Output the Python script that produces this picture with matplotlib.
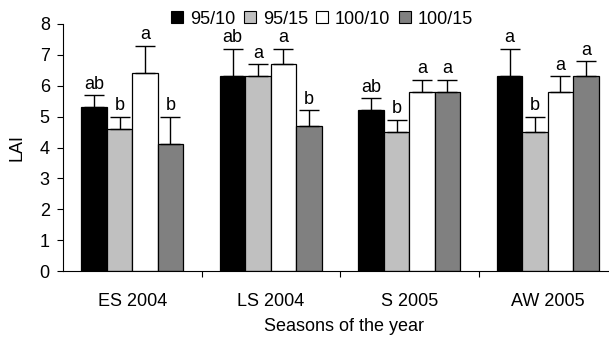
import matplotlib
matplotlib.use("Agg")
import matplotlib.pyplot as plt
import numpy as np
from matplotlib.patches import Patch

plt.rcParams['font.family'] = ['Liberation Sans', 'DejaVu Sans']

seasons = ["ES 2004", "LS 2004", "S 2005", "AW 2005"]
series_names = ["95/10", "95/15", "100/10", "100/15"]
colors = ["#000000", "#c0c0c0", "#ffffff", "#808080"]

means = {
    "95/10":  [5.3, 6.3, 5.2, 6.3],
    "95/15":  [4.6, 6.3, 4.5, 4.5],
    "100/10": [6.4, 6.7, 5.8, 5.8],
    "100/15": [4.1, 4.7, 5.8, 6.3],
}
errors = {
    "95/10":  [0.4, 0.9, 0.4, 0.9],
    "95/15":  [0.4, 0.4, 0.4, 0.5],
    "100/10": [0.9, 0.5, 0.4, 0.5],
    "100/15": [0.9, 0.5, 0.4, 0.5],
}
letters = {
    "95/10":  ["ab", "ab", "ab", "a"],
    "95/15":  ["b", "a", "b", "b"],
    "100/10": ["a", "a", "a", "a"],
    "100/15": ["b", "b", "a", "a"],
}

fig = plt.figure(figsize=(6.09, 3.41), dpi=100)
ax = fig.add_axes([63/609, 1 - 271/341, (617-63)/609, (271-24)/341])

x = np.arange(len(seasons))
w = 0.184
fs = 13
for i, name in enumerate(series_names):
    pos = x + (i - 1.5) * w
    ax.bar(pos, means[name], width=w, color=colors[i], edgecolor="black", linewidth=0.9, zorder=2)
    ax.errorbar(pos, means[name], yerr=[np.zeros(len(seasons)), errors[name]], fmt="none",
                ecolor="black", elinewidth=1.0, capsize=7.5, capthick=1.0, zorder=3)
    for p, m, e, lab in zip(pos, means[name], errors[name], letters[name]):
        ax.text(p, m + e + 0.08, lab, ha="center", va="bottom", fontsize=fs)

ax.set_xlim(-0.5, 3.5)
ax.set_ylim(0, 8)
ax.set_yticks(range(0, 9))
ax.tick_params(axis="y", labelsize=fs, direction="out", length=4.5, width=0.8, pad=5)
ax.set_xticks(x)
ax.set_xticklabels(seasons, fontsize=fs)
ax.tick_params(axis="x", which="major", length=0, pad=16)
ax.set_xticks([0.5, 1.5, 2.5], minor=True)
ax.tick_params(axis="x", which="minor", length=4.5, width=0.8, direction="out")
ax.spines["top"].set_visible(False)
ax.spines["right"].set_visible(False)
ax.spines["left"].set_linewidth(0.8)
ax.spines["bottom"].set_linewidth(0.8)
ax.set_ylabel("LAI", fontsize=fs, labelpad=10)
ax.set_xlabel("Seasons of the year", fontsize=fs)
ax.xaxis.set_label_coords((344 - 63) / (617 - 63), -(318 - 271) / (271 - 24))

handles = [Patch(facecolor=c, edgecolor="black", linewidth=0.8) for c in colors]
fig.legend(handles, series_names, loc="center", bbox_to_anchor=(322/609, 1 - 19/341), ncol=4,
           frameon=False, fontsize=fs, handlelength=0.67, handleheight=0.67,
           handletextpad=0.39, columnspacing=0.45, borderpad=0)

fig.savefig("out.png", dpi=100)
